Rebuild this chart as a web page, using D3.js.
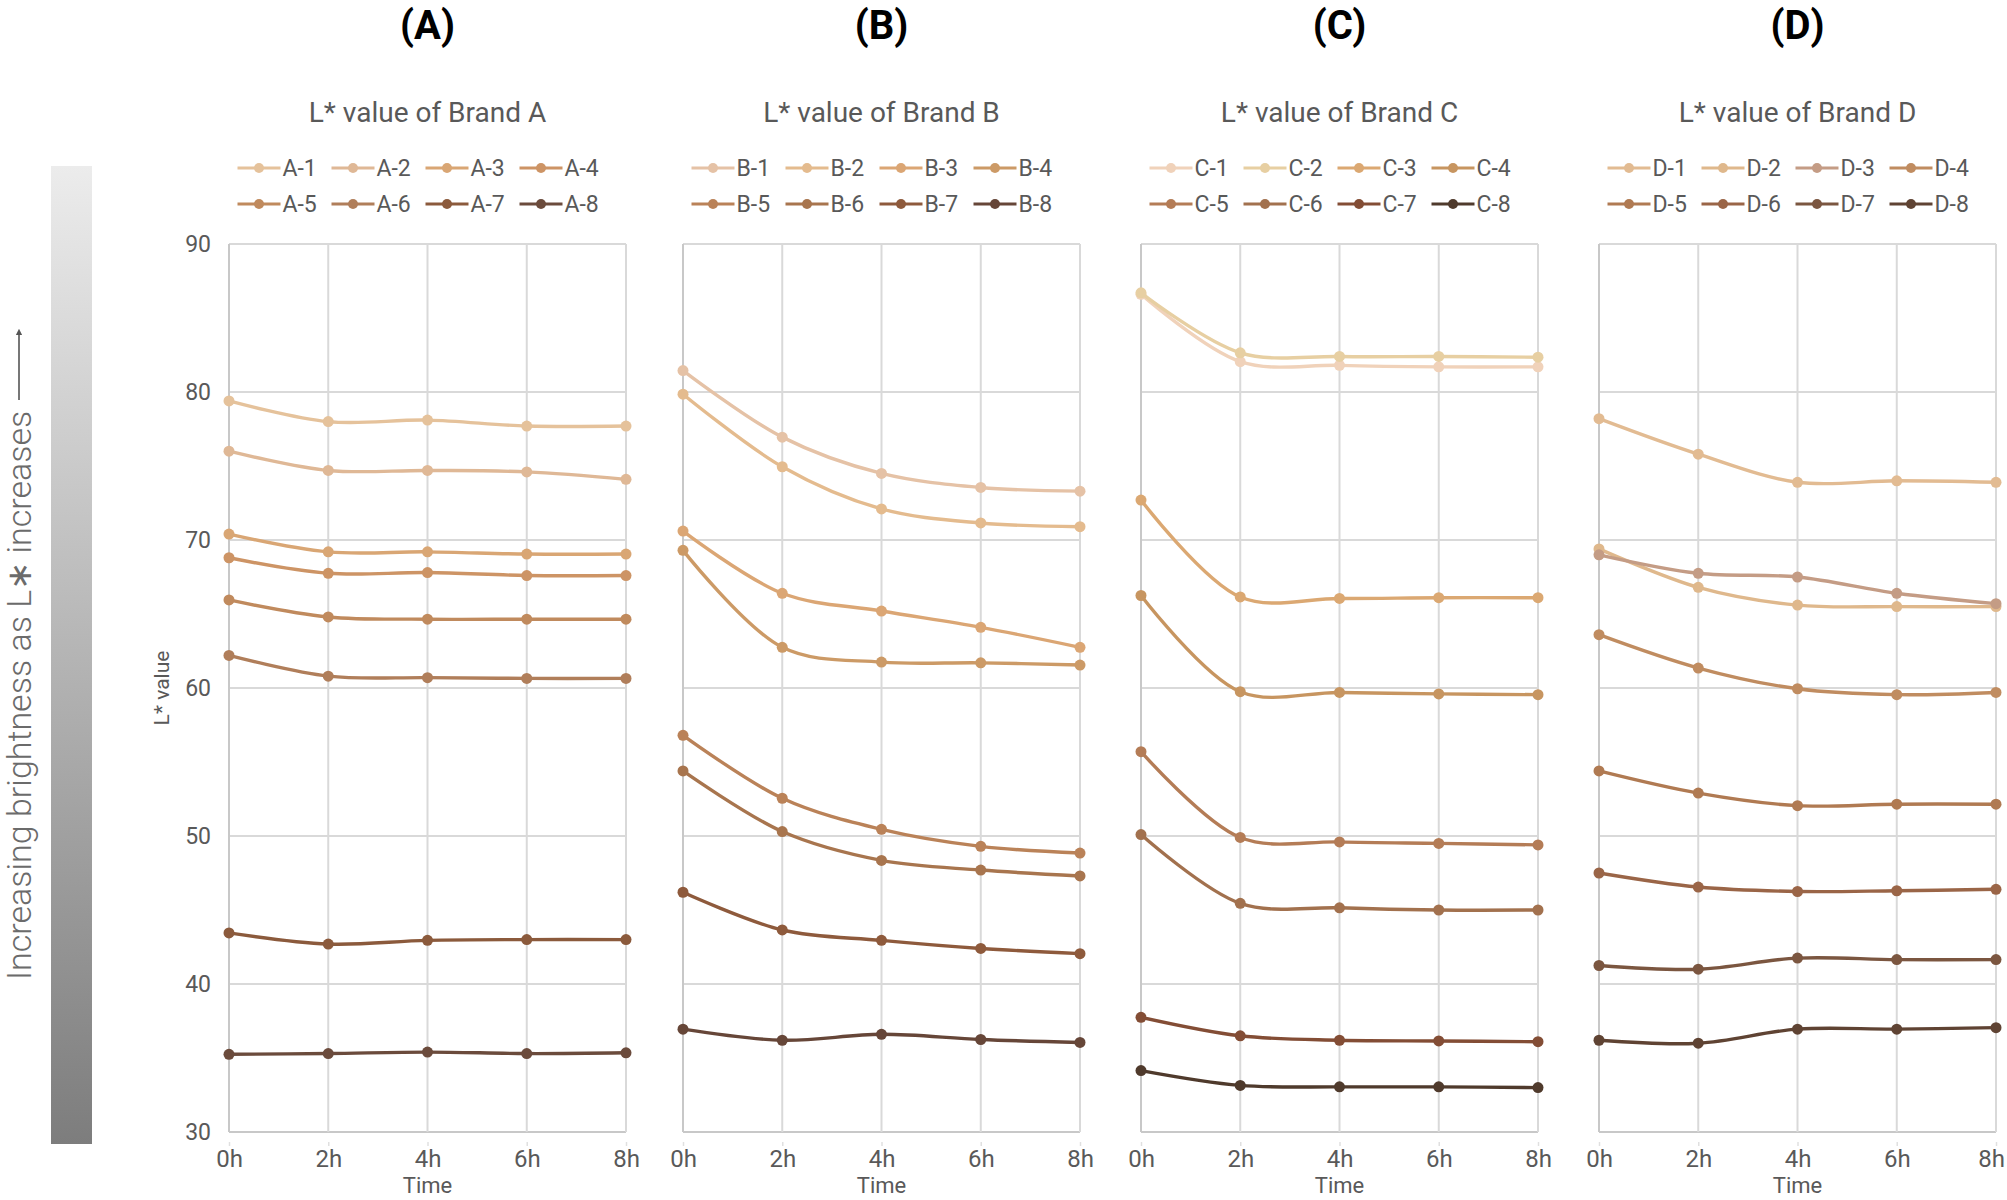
<!DOCTYPE html>
<html>
<head>
<meta charset="utf-8">
<script src="https://cdn.jsdelivr.net/npm/d3@7/dist/d3.min.js"></script>
<style>
  html, body { margin: 0; padding: 0; background: #fff; }
  svg { display: block; }
  text { font-family: Roboto, "Noto Sans", sans-serif; }
</style>
</head>
<body>
<svg id="chart" width="2007" height="1200"></svg>
<script>
// ---------------- DATA ----------------
const times = ["0h", "2h", "4h", "6h", "8h"];
const yTicks = [30, 40, 50, 60, 70, 80, 90];
const panelLabels = ["(A)", "(B)", "(C)", "(D)"];
const brandNames = ["A", "B", "C", "D"];
const seriesNumbers = [1, 2, 3, 4, 5, 6, 7, 8];

const valuesA = [
  [79.4, 78.0, 78.1, 77.7, 77.7],
  [76.0, 74.7, 74.7, 74.6, 74.1],
  [70.4, 69.2, 69.2, 69.05, 69.05],
  [68.8, 67.75, 67.8, 67.6, 67.6],
  [65.95, 64.8, 64.65, 64.65, 64.65],
  [62.2, 60.8, 60.7, 60.65, 60.65],
  [43.45, 42.7, 42.95, 43.0, 43.0],
  [35.25, 35.3, 35.4, 35.3, 35.35]
];
const valuesB = [
  [81.45, 76.95, 74.5, 73.55, 73.3],
  [79.85, 74.95, 72.1, 71.15, 70.9],
  [70.6, 66.4, 65.2, 64.1, 62.75],
  [69.3, 62.75, 61.75, 61.7, 61.55],
  [56.8, 52.55, 50.45, 49.3, 48.85],
  [54.4, 50.3, 48.35, 47.7, 47.3],
  [46.2, 43.65, 42.95, 42.4, 42.05],
  [36.95, 36.2, 36.6, 36.25, 36.05]
];
const valuesC = [
  [86.6, 82.05, 81.8, 81.7, 81.7],
  [86.7, 82.65, 82.4, 82.4, 82.35],
  [72.7, 66.15, 66.05, 66.1, 66.1],
  [66.25, 59.75, 59.7, 59.6, 59.55],
  [55.7, 49.9, 49.6, 49.5, 49.4],
  [50.1, 45.45, 45.15, 45.0, 45.0],
  [37.75, 36.5, 36.2, 36.15, 36.1],
  [34.15, 33.15, 33.05, 33.05, 33.0]
];
const valuesD = [
  [78.2, 75.8, 73.9, 74.0, 73.9],
  [69.4, 66.8, 65.6, 65.5, 65.5],
  [69.0, 67.75, 67.5, 66.4, 65.7],
  [63.6, 61.35, 59.95, 59.55, 59.7],
  [54.4, 52.9, 52.05, 52.15, 52.15],
  [47.5, 46.55, 46.25, 46.3, 46.4],
  [41.25, 41.0, 41.75, 41.65, 41.65],
  [36.2, 36.0, 36.95, 36.95, 37.05]
];

const colorsA = ["#e5c29b", "#dfb896", "#d9a674", "#cd9465", "#c08a5d", "#b07e5a", "#8b5a3c", "#6b4b3c"];
const colorsB = ["#e5c2a6", "#e4bb8e", "#dba674", "#cc9a66", "#ba8258", "#a8754e", "#8e5a3c", "#664638"];
const colorsC = ["#f0d2ba", "#e7cfa2", "#dba872", "#c79560", "#b47c56", "#a2714e", "#834d35", "#4f3a2c"];
const colorsD = ["#e2bb92", "#dfb88c", "#c49c85", "#c08c60", "#b07a52", "#9a6547", "#7b5640", "#5f4333"];

const allValues = [valuesA, valuesB, valuesC, valuesD];
const allColors = [colorsA, colorsB, colorsC, colorsD];

// ---------------- LAYOUT ----------------
const W = 2007;
const svg = d3.select("#chart");
const plotLefts = [229, 683, 1141, 1599];
const plotW = 397;
const plotTop = 244, plotBottom = 1132;

const y = d3.scaleLinear().domain([30, 90]).range([plotBottom, plotTop]);

// gradient bar
const defs = svg.append("defs");
const grad = defs.append("linearGradient").attr("id", "gbar")
  .attr("x1", 0).attr("y1", 0).attr("x2", 0).attr("y2", 1);
grad.append("stop").attr("offset", "0%").attr("stop-color", "#ececec");
grad.append("stop").attr("offset", "100%").attr("stop-color", "#7d7d7d");
svg.append("rect").attr("x", 51).attr("y", 166).attr("width", 41).attr("height", 978)
  .attr("fill", "url(#gbar)");

// rotated side label + arrow
svg.append("text")
  .attr("transform", "translate(31,980) rotate(-90)")
  .attr("text-anchor", "start")
  .attr("font-size", 34)
  .attr("font-weight", 300)
  .attr("fill", "#6b6b6b")
  .text("Increasing brightness as L\u2217 increases");
defs.append("marker").attr("id", "arrowHead")
  .attr("viewBox", "0 0 10 10").attr("refX", 5).attr("refY", 5)
  .attr("markerWidth", 4).attr("markerHeight", 4).attr("orient", "auto")
  .append("path").attr("d", "M0,0 L10,5 L0,10 Z").attr("fill", "#555");
svg.append("line").attr("x1", 19).attr("x2", 19).attr("y1", 400).attr("y2", 332)
  .attr("stroke", "#555").attr("stroke-width", 1.6).attr("marker-end", "url(#arrowHead)");

const line = d3.line().curve(d3.curveCatmullRom.alpha(0.5));

brandNames.forEach((b, bi) => {
  const left = plotLefts[bi];
  const x = d3.scalePoint().domain(times).range([left, left + plotW]).padding(0);
  const cx = left + plotW / 2;
  const g = svg.append("g");

  // panel label
  g.append("text").attr("x", cx).attr("y", 39).attr("text-anchor", "middle")
    .attr("font-size", 40).attr("font-weight", 700).attr("fill", "#000")
    .attr("font-family", "'Open Sans', 'Noto Sans', sans-serif")
    .text(panelLabels[bi]);

  // title
  g.append("text").attr("x", cx).attr("y", 122).attr("text-anchor", "middle")
    .attr("font-size", 28).attr("fill", "#595959")
    .attr("font-family", "'Noto Sans', Roboto, sans-serif")
    .text("L* value of Brand " + b);

  // legend
  const legStart = cx - 190;
  seriesNumbers.forEach((n, i) => {
    const row = Math.floor(i / 4), col = i % 4;
    const lx = legStart + col * 94, ly = 168 + row * 36;
    const c = allColors[bi][i];
    g.append("line").attr("x1", lx).attr("x2", lx + 43).attr("y1", ly).attr("y2", ly)
      .attr("stroke", c).attr("stroke-width", 3);
    g.append("circle").attr("cx", lx + 21.5).attr("cy", ly).attr("r", 5).attr("fill", c);
    g.append("text").attr("x", lx + 45).attr("y", ly + 8).attr("font-size", 23)
      .attr("font-family", "'Noto Sans', Roboto, sans-serif")
      .attr("fill", "#595959").text(b + "-" + n);
  });

  // grid
  const grid = g.append("g");
  yTicks.forEach(t => {
    grid.append("line").attr("x1", left).attr("x2", left + plotW)
      .attr("y1", y(t)).attr("y2", y(t))
      .attr("stroke", t === 30 ? "#c8c8c8" : "#d9d9d9").attr("stroke-width", 2);
  });
  times.forEach((t, i) => {
    grid.append("line").attr("x1", x(t)).attr("x2", x(t))
      .attr("y1", plotTop).attr("y2", plotBottom)
      .attr("stroke", i === 0 ? "#c8c8c8" : "#d9d9d9").attr("stroke-width", 2);
  });

  // x axis
  const xAxis = g.append("g").attr("transform", `translate(0,${plotBottom})`)
    .call(d3.axisBottom(x).tickSize(4).tickPadding(14));
  xAxis.select(".domain").remove();
  xAxis.selectAll(".tick line").attr("stroke", "#e0e0e0").attr("stroke-width", 1.5)
    .attr("transform", "translate(0,10)");
  xAxis.selectAll(".tick text").attr("font-size", 24).attr("fill", "#595959")
    .attr("font-family", "Roboto, 'Noto Sans', sans-serif").attr("dy", "0.72em")
    .each(function() {
      // keep labels inside the canvas
      const node = d3.select(this);
      const bb = this.getBBox();
      const tr = this.parentNode.transform.baseVal.consolidate();
      const tx = tr ? tr.matrix.e : 0;
      const overflow = tx + bb.x + bb.width - (W - 2);
      if (overflow > 0) node.attr("x", -overflow);
    });
  g.append("text").attr("x", cx).attr("y", 1193).attr("text-anchor", "middle")
    .attr("font-size", 22).attr("fill", "#595959").text("Time");

  // y axis (only first panel)
  if (bi === 0) {
    const yAxis = g.append("g").attr("transform", `translate(${left},0)`)
      .call(d3.axisLeft(y).tickValues(yTicks).tickSize(0).tickPadding(18));
    yAxis.select(".domain").remove();
    yAxis.selectAll(".tick text").attr("font-size", 23).attr("fill", "#595959")
      .attr("font-family", "Roboto, 'Noto Sans', sans-serif");
    g.append("text").attr("transform", `translate(169,688) rotate(-90)`)
      .attr("text-anchor", "middle").attr("font-size", 21).attr("fill", "#595959")
      .text("L* value");
  }

  // series
  allValues[bi].forEach((vals, si) => {
    const c = allColors[bi][si];
    const pts = vals.map((v, k) => [x(times[k]), y(v)]);
    g.append("path").attr("d", line(pts)).attr("fill", "none")
      .attr("stroke", c).attr("stroke-width", 3.4);
    g.selectAll(null).data(vals).enter().append("circle")
      .attr("cx", (d, k) => x(times[k])).attr("cy", d => y(d)).attr("r", 5.5)
      .attr("fill", c);
  });
});
</script>
</body>
</html>
